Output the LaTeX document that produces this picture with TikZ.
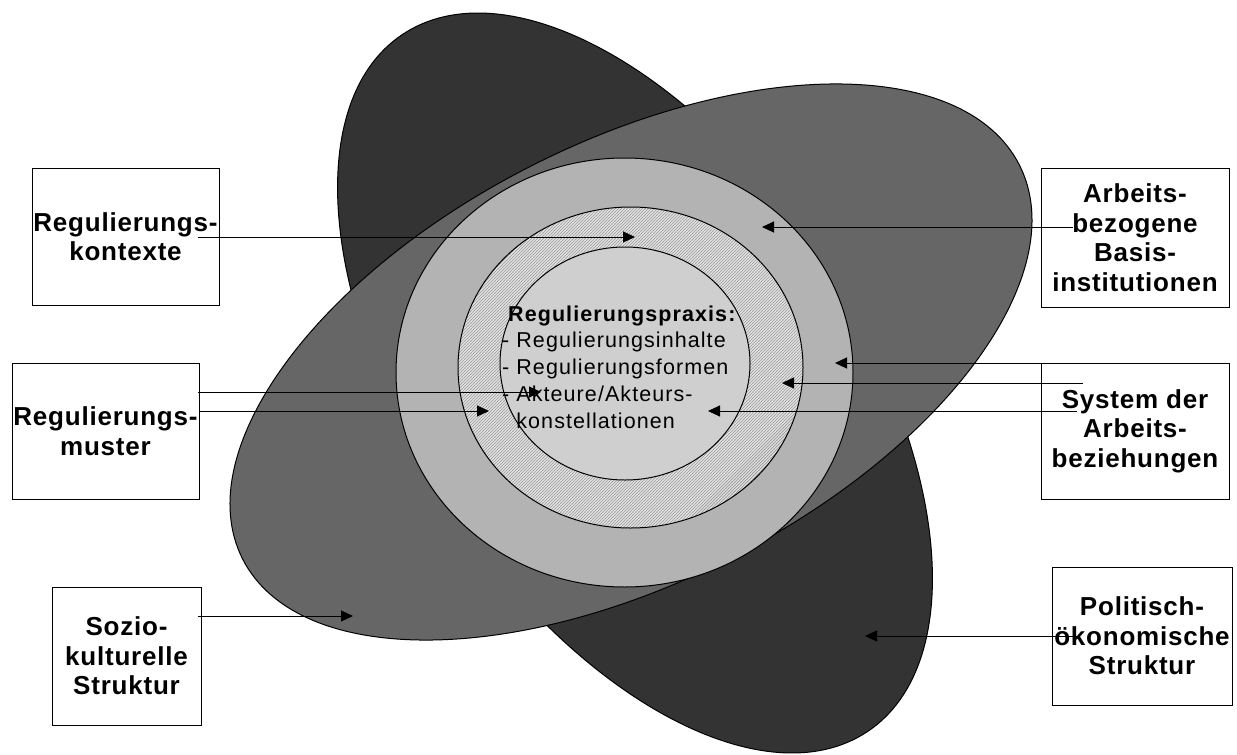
\documentclass[tikz,border=0pt]{standalone}
\usepackage{fontspec}
\setmainfont{Liberation Sans}
\usetikzlibrary{arrows.meta,patterns}
\definecolor{darkg}{HTML}{333333}
\definecolor{midg}{HTML}{666666}
\definecolor{ringg}{HTML}{B3B3B3}
\definecolor{hatchbg}{HTML}{E4E4E4}
\definecolor{hatchln}{HTML}{9A9A9A}
\definecolor{innerg}{HTML}{CFCFCF}
\pgfdeclarepatternformonly{finehatch}{\pgfqpoint{-0.5pt}{-0.5pt}}{\pgfqpoint{3.5pt}{3.5pt}}{\pgfqpoint{3pt}{3pt}}{%
  \pgfsetlinewidth{0.7pt}%
  \pgfpathmoveto{\pgfqpoint{-0.2pt}{-0.2pt}}%
  \pgfpathlineto{\pgfqpoint{3.2pt}{3.2pt}}%
  \pgfusepath{stroke}}
\newcommand\boxfnt{\fontsize{26}{29.5}\selectfont\bfseries\addfontfeature{LetterSpace=3}}
\newcommand\ctrfnt{\fontsize{21.5}{26.7}\selectfont\addfontfeature{LetterSpace=5}}
\begin{document}
\begin{tikzpicture}[x=1pt,y=-1pt,
  outl/.style={draw=black,line width=1pt},
  lbox/.style={draw=black,line width=1pt,fill=white,align=center,inner sep=0pt,font=\boxfnt},
  arr/.style={draw=black,line width=1pt,-{Triangle[length=12pt,width=11pt]}}]
\useasboundingbox (0,0) rectangle (1237,755);
% large tilted shapes
\filldraw[fill=darkg,outl,rotate around={-56.3:(635,383)}] (635,383) ellipse [x radius=419, y radius=223];
\filldraw[fill=midg,outl,rotate around={26.9:(631,362)}] (631,362) ellipse [x radius=435.5, y radius=220];
% concentric rings
\filldraw[fill=ringg,outl] (624.5,372.5) ellipse [x radius=228.5, y radius=214.5];
\fill[hatchbg] (630.5,367.5) ellipse [x radius=172.5, y radius=160.5];
\fill[pattern=finehatch,pattern color=hatchln] (630.5,367.5) ellipse [x radius=172.5, y radius=160.5];
\draw[outl] (630.5,367.5) ellipse [x radius=172.5, y radius=160.5];
\filldraw[fill=innerg,outl] (625,363.5) ellipse [x radius=125, y radius=116.5];
% centre text
\node[anchor=north west,inner sep=0pt,align=left,font=\ctrfnt] (praxis) at (502,305.5)
  {\hspace*{6pt}\textbf{Regulierungspraxis:}\\- Regulierungsinhalte\\- Regulierungsformen\\- Akteure/Akteurs-\\\phantom{- }konstellationen};
% boxes
\node[lbox,minimum width=187,minimum height=137] (kontexte) at (125.5,236.5) {Regulierungs-\\kontexte};
\node[lbox,minimum width=187,minimum height=136] (muster) at (105.5,431) {Regulierungs-\\muster};
\node[lbox,minimum width=188,minimum height=139] (basis) at (1135,237.5) {Arbeits-\\bezogene\\Basis-\\institutionen};
\node[lbox,minimum width=188,minimum height=136] (system) at (1135,431) {System der\\Arbeits-\\beziehungen};
\node[lbox,minimum width=149,minimum height=138] (sozio) at (126.5,656) {Sozio-\\kulturelle\\Struktur};
\node[lbox,minimum width=180,minimum height=138] (polit) at (1142,636) {Politisch-\\ökonomische\\Struktur};
% arrow end points
\coordinate (s1) at (198,237);  \coordinate (t1) at (635,237);
\coordinate (s2) at (1073,227); \coordinate (t2) at (762,227);
\coordinate (s3) at (198,392);  \coordinate (t3) at (541,392);
\coordinate (s4) at (199,411);  \coordinate (t4) at (489,411);
\coordinate (s5) at (1083,363); \coordinate (t5) at (835,363);
\coordinate (s6) at (1083,383); \coordinate (t6) at (782,383);
\coordinate (s7) at (1077,411); \coordinate (t7) at (708,411);
\coordinate (s8) at (198,616);  \coordinate (t8) at (353,616);
\coordinate (s9) at (1078,636); \coordinate (t9) at (865,636);
\foreach \i in {1,...,9} {\draw[arr] (s\i) -- (t\i);}
\end{tikzpicture}
\end{document}
